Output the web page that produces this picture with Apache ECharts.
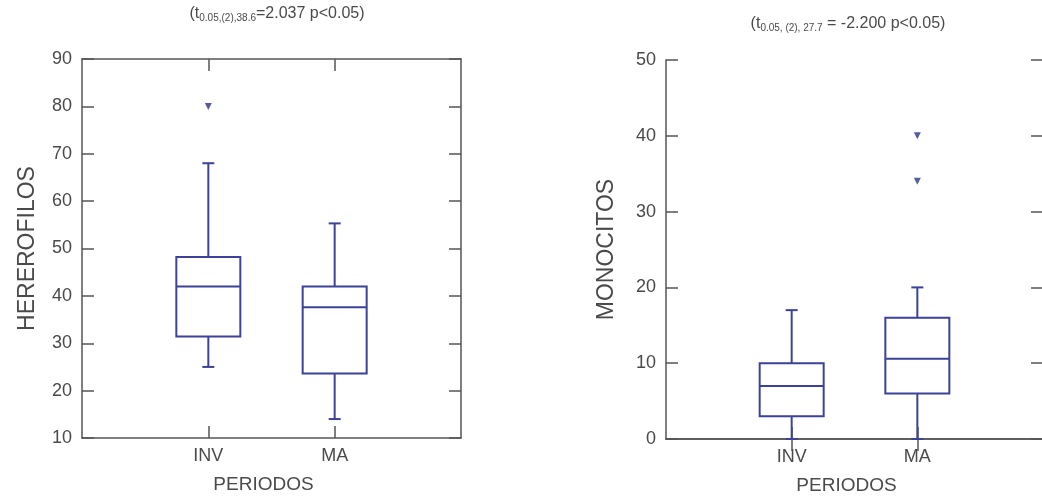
<!DOCTYPE html>
<html>
<head>
<meta charset="utf-8">
<script src="https://cdn.jsdelivr.net/npm/echarts@6/dist/echarts.min.js"></script>
<style>
html,body{margin:0;padding:0;background:#fff;}
#chart{width:1042px;height:496px;}
</style>
</head>
<body>
<div id="chart"></div>
<script>
// ---- data ----
const categories = ['', 'INV', 'MA', ''];
// [min, Q1, median, Q3, max]
const heterofilosBox = [[25, 31.4, 42, 48.2, 68], [14, 23.6, 37.6, 42, 55.3]];
const heterofilosOutliers = [[1, 80]];
const monocitosBox = [[0, 3, 7, 10, 17], [0, 6, 10.6, 16, 20]];
const monocitosOutliers = [[2, 40], [2, 34]];
const heterofilosRange = [10, 90, 10];
const monocitosRange = [0, 50, 10];

const BOX = '#3d4299';
const FRAME = '#555555';
const TXT = '#4a4a4a';
const FONT = 'Liberation Sans, Arial, sans-serif';

function toBoxData(arr) {
  return arr.map((d, i) => [i + 1].concat(d));
}

function renderBox(params, api) {
  const x = api.value(0);
  const pMin = api.coord([x, api.value(1)]);
  const pQ1 = api.coord([x, api.value(2)]);
  const pMed = api.coord([x, api.value(3)]);
  const pQ3 = api.coord([x, api.value(4)]);
  const pMax = api.coord([x, api.value(5)]);
  const cx = pMed[0];
  const half = 32, cap = 6;
  const st = { stroke: BOX, lineWidth: 2, fill: 'none' };
  const ln = (x1, y1, x2, y2) => ({ type: 'line', shape: { x1, y1, x2, y2 }, style: st });
  return {
    type: 'group',
    children: [
      { type: 'rect', shape: { x: cx - half, y: pQ3[1], width: half * 2, height: pQ1[1] - pQ3[1] }, style: st },
      ln(cx - half, pMed[1], cx + half, pMed[1]),
      ln(cx, pQ3[1], cx, pMax[1]),
      ln(cx - cap, pMax[1], cx + cap, pMax[1]),
      ln(cx, pQ1[1], cx, pMin[1]),
      ln(cx - cap, pMin[1], cx + cap, pMin[1])
    ]
  };
}

function xAxes(gridIndex) {
  const common = {
    type: 'category', data: categories, boundaryGap: false, gridIndex,
    axisLine: { show: true, lineStyle: { color: FRAME, width: 1.5 } },
    axisTick: { show: true, inside: true, length: 12, interval: (i) => i === 1 || i === 2, lineStyle: { color: FRAME, width: 1.5 } },
    splitLine: { show: false }
  };
  return [
    Object.assign({}, common, {
      position: 'bottom',
      axisLabel: { show: true, interval: 0, color: TXT, fontSize: 18, fontFamily: FONT, margin: 9 },
      name: 'PERIODOS', nameLocation: 'middle', nameGap: 37,
      nameTextStyle: { color: TXT, fontSize: 19, fontFamily: FONT, padding: [0, 16, 0, 0] }
    }),
    Object.assign({}, common, { position: 'top', axisLabel: { show: false } })
  ];
}

function yAxes(gridIndex, range, name, gap) {
  const common = {
    type: 'value', gridIndex, min: range[0], max: range[1], interval: range[2],
    axisLine: { show: true, lineStyle: { color: FRAME, width: 1.5 } },
    axisTick: { show: true, inside: true, length: 12, lineStyle: { color: FRAME, width: 1.5 } },
    splitLine: { show: false }
  };
  return [
    Object.assign({}, common, {
      position: 'left',
      axisLabel: { color: TXT, fontSize: 18, fontFamily: FONT, margin: 10 },
      name, nameLocation: 'middle', nameGap: gap,
      nameTextStyle: { color: TXT, fontSize: 23, fontFamily: FONT }
    }),
    Object.assign({}, common, { position: 'right', axisLabel: { show: false } })
  ];
}

const chart = echarts.init(document.getElementById('chart'), null, { renderer: 'canvas' });
const richTitle = {
  a: { fontSize: 16, color: TXT, fontFamily: FONT, fontWeight: 'normal' },
  b: { fontSize: 10, color: TXT, fontFamily: FONT, fontWeight: 'normal', verticalAlign: 'bottom', padding: [8, 0, 0, 0] }
};
chart.setOption({
  animation: false,
  backgroundColor: '#ffffff',
  title: [
    { text: '{a|(t}{b|0.05,(2),38.6}{a|=2.037 p<0.05)}', left: 272, top: 0, textAlign: 'center', textStyle: { fontWeight: 'normal', rich: richTitle } },
    { text: '{a|(t}{b|0.05, (2), 27.7}{a| = -2.200 p<0.05)}', left: 843, top: 10, textAlign: 'center', textStyle: { fontWeight: 'normal', rich: richTitle } }
  ],
  grid: [
    { left: 82, top: 59, width: 379, height: 379, containLabel: false, outerBoundsMode: 'none' },
    { left: 666, top: 60, width: 377, height: 379, containLabel: false, outerBoundsMode: 'none' }
  ],
  xAxis: xAxes(0).concat(xAxes(1)),
  yAxis: yAxes(0, heterofilosRange, 'HEREROFILOS', 43).concat(yAxes(1, monocitosRange, 'MONOCITOS', 48)),
  series: [
    { type: 'custom', xAxisIndex: 0, yAxisIndex: 0, renderItem: renderBox, data: toBoxData(heterofilosBox), encode: { x: 0, y: [1, 2, 3, 4, 5] }, z: 3 },
    { type: 'scatter', xAxisIndex: 0, yAxisIndex: 0, data: heterofilosOutliers, symbol: 'triangle', symbolRotate: 180, symbolSize: 7, itemStyle: { color: '#2b3383' } },
    { type: 'custom', xAxisIndex: 2, yAxisIndex: 2, renderItem: renderBox, data: toBoxData(monocitosBox), encode: { x: 0, y: [1, 2, 3, 4, 5] }, z: 3 },
    { type: 'scatter', xAxisIndex: 2, yAxisIndex: 2, data: monocitosOutliers, symbol: 'triangle', symbolRotate: 180, symbolSize: 7, itemStyle: { color: '#2b3383' } }
  ]
});
</script>
</body>
</html>
